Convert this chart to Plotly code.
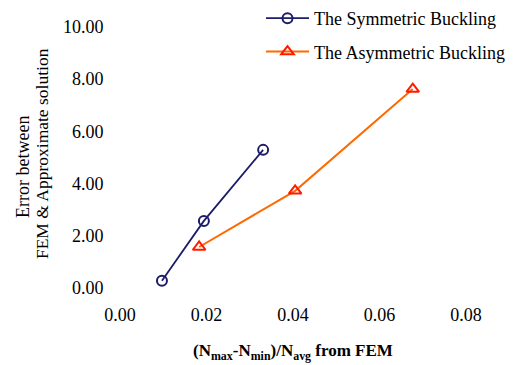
import plotly.graph_objects as go

# Series data
sym_x = [0.0097, 0.0194, 0.0331]
sym_y = [0.28, 2.57, 5.29]
asym_x = [0.0183, 0.0405, 0.0677]
asym_y = [1.57, 3.72, 7.62]

x_ticks = [0.00, 0.02, 0.04, 0.06, 0.08]
x_tick_labels = ["0.00", "0.02", "0.04", "0.06", "0.08"]
y_ticks = [0, 2, 4, 6, 8, 10]
y_tick_labels = ["0.00", "2.00", "4.00", "6.00", "8.00", "10.00"]

x_title = "(N<sub>max</sub>-N<sub>min</sub>)/N<sub>avg</sub> from FEM"
y_title_lines = ["Error between", "FEM & Approximate solution"]

SERIF = "Liberation Serif"

fig = go.Figure()
fig.add_trace(go.Scatter(
    x=sym_x, y=sym_y, mode="lines+markers", name="The Symmetric Buckling",
    line=dict(color="#1c1c6b", width=1.8),
    marker=dict(symbol="circle-open", size=10, color="#1c1c6b", line=dict(width=2)),
    legendgroup="a",
))
fig.add_trace(go.Scatter(
    x=asym_x, y=asym_y, mode="lines+markers", name="The Asymmetric Buckling",
    line=dict(color="#ff6a00", width=2),
    marker=dict(symbol="triangle-up-open", size=11, color="#ff1a00", line=dict(width=2)),
    legendgroup="b",
))

# y-axis title: two rotated lines set close together
annotations = [
    dict(text=y_title_lines[0], xref="paper", yref="paper",
         x=-0.2425, y=0.42, xanchor="center", yanchor="middle",
         textangle=-90, showarrow=False,
         font=dict(family=SERIF, size=18, color="black")),
    dict(text=y_title_lines[1], xref="paper", yref="paper",
         x=-0.195, y=0.465, xanchor="center", yanchor="middle",
         textangle=-90, showarrow=False,
         font=dict(family=SERIF, size=17.5, color="black")),
    # x-axis title centred under the 0.00–0.08 tick span
    dict(text="<b>" + x_title + "</b>", xref="x", yref="paper",
         x=0.040, y=-0.222, xanchor="center", yanchor="middle",
         showarrow=False, font=dict(family=SERIF, size=17, color="black")),
]

# Axes have no visible lines, so the ranges leave room above and to the
# right for the legend to sit inside the plotting area.
fig.update_layout(
    width=525, height=365,
    margin=dict(l=120, r=5, t=0, b=77),
    paper_bgcolor="white", plot_bgcolor="white",
    font=dict(family=SERIF, size=18, color="black"),
    showlegend=True,
    legend=dict(
        x=0.3525, y=1.0, xanchor="left", yanchor="top",
        font=dict(family=SERIF, size=18, color="black"),
        bgcolor="rgba(0,0,0,0)", tracegroupgap=7,
        itemwidth=43,
    ),
    xaxis=dict(
        range=[0, 0.0925], tickvals=x_ticks, ticktext=x_tick_labels,
        showgrid=False, zeroline=False, showline=False,
        ticks="outside", ticklen=10, tickcolor="rgba(0,0,0,0)",
        tickfont=dict(family=SERIF, size=18),
    ),
    yaxis=dict(
        range=[0, 11.03], tickvals=y_ticks, ticktext=y_tick_labels,
        showgrid=False, zeroline=False, showline=False,
        ticks="outside", ticklen=12, tickcolor="rgba(0,0,0,0)",
        tickfont=dict(family=SERIF, size=18),
    ),
    annotations=annotations,
)

fig.write_html("out.html")
